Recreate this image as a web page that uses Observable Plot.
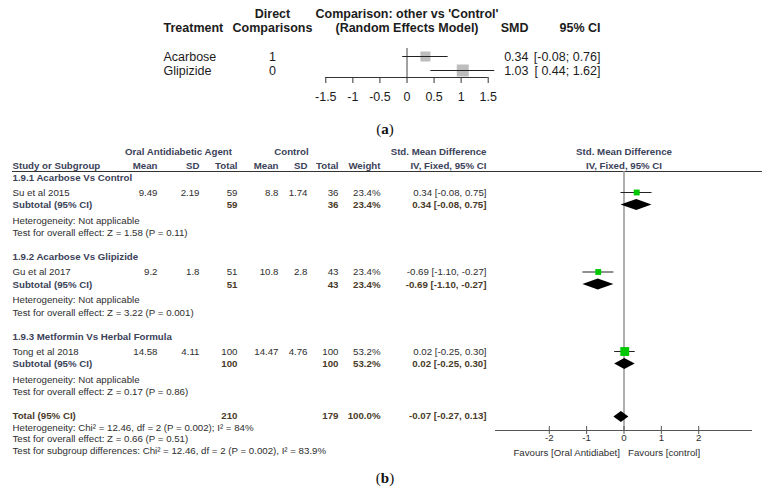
<!DOCTYPE html>
<html>
<head>
<meta charset="utf-8">
<script src="https://cdn.jsdelivr.net/npm/d3@7"></script>
<script src="https://cdn.jsdelivr.net/npm/@observablehq/plot@0.6"></script>
<style>
html, body { margin: 0; padding: 0; background: #fff; }
#root { position: relative; width: 770px; height: 493px; overflow: hidden; background: #fff; }
#root svg { position: absolute; left: 0; }
.cap { position: absolute; left: 0; width: 770px; text-align: center; font-family: "Liberation Serif", "Times New Roman", serif; font-size: 15px; line-height: 15px; color: #111; }
</style>
</head>
<body>
<div id="root"></div>
<script>
// ================= DATA: panel (a) — network meta-analysis =================
const aTreatments = ["Acarbose", "Glipizide"];
const aDirect = [1, 0];
const aSMD = [0.34, 1.03];
const aLower = [-0.08, 0.44];
const aUpper = [0.76, 1.62];
const aTicks = [-1.5, -1, -0.5, 0, 0.5, 1, 1.5];
const aHeaderTop = ["Direct", "Comparison: other vs 'Control'"];
const aHeaderBottom = ["Treatment", "Comparisons", "(Random Effects Model)", "SMD", "95% CI"];

// ================= DATA: panel (b) — RevMan forest plot =================
const bSubgroups = ["1.9.1 Acarbose Vs Control", "1.9.2 Acarbose Vs Glipizide", "1.9.3 Metformin Vs Herbal Formula"];
const bStudies = ["Su et al 2015", "Gu et al 2017", "Tong et al 2018"];
const bExpMean = [9.49, 9.2, 14.58];
const bExpSD = [2.19, 1.8, 4.11];
const bExpTotal = [59, 51, 100];
const bCtlMean = [8.8, 10.8, 14.47];
const bCtlSD = [1.74, 2.8, 4.76];
const bCtlTotal = [36, 43, 100];
const bWeight = [23.4, 23.4, 53.2];
const bSMD = [0.34, -0.69, 0.02];
const bLower = [-0.08, -1.10, -0.25];
const bUpper = [0.75, -0.27, 0.30];
const bSubSMD = [0.34, -0.69, 0.02];
const bSubLower = [-0.08, -1.10, -0.25];
const bSubUpper = [0.75, -0.27, 0.30];
const bHeterogeneity = ["Heterogeneity: Not applicable", "Heterogeneity: Not applicable", "Heterogeneity: Not applicable"];
const bOverall = ["Test for overall effect: Z = 1.58 (P = 0.11)", "Test for overall effect: Z = 3.22 (P = 0.001)", "Test for overall effect: Z = 0.17 (P = 0.86)"];
const bTotalLabel = "Total (95% CI)";
const bSubtotalLabel = "Subtotal (95% CI)";
const bTotalExp = 210;
const bTotalCtl = 179;
const bTotalWeight = 100.0;
const bTotalSMD = -0.07;
const bTotalLower = -0.27;
const bTotalUpper = 0.13;
const bFooter = [
  "Heterogeneity: Chi\u00b2 = 12.46, df = 2 (P = 0.002); I\u00b2 = 84%",
  "Test for overall effect: Z = 0.66 (P = 0.51)",
  "Test for subgroup differences: Chi\u00b2 = 12.46, df = 2 (P = 0.002), I\u00b2 = 83.9%"
];
const bTicks = [-2, -1, 0, 1, 2];
const bAxisExtent = [-3.44, 3.44];
const bFavours = ["Favours [Oral Antidiabet]", "Favours [control]"];
const bGroupHeaders = ["Oral Antidiabetic Agent", "Control", "Std. Mean Difference", "Std. Mean Difference"];
const bColumnHeaders = ["Study or Subgroup", "Mean", "SD", "Total", "Mean", "SD", "Total", "Weight", "IV, Fixed, 95% CI", "IV, Fixed, 95% CI"];

// ================= LAYOUT & STYLE =================
const FONT = "'Liberation Sans', Arial, sans-serif";
const root = document.getElementById("root");
const locale = d3.formatLocale({decimal: ".", thousands: ",", grouping: [3], currency: ["", ""], minus: "-"});
const f2 = locale.format(".2f");
const f1 = locale.format(".1f");

// ---------- panel (a) ----------
const A_TOP = 0, A_H = 112, A_AXIS_Y = 77, A_FS = 12.5;
const aRowY = aTreatments.map((d, i) => 56 + 14 * i);
const aHeadY = [13, 27];
const aSide = [10, 12];              // square side (px), style
const A_INK = "#1c1c1c";
const ciA = (l, u) => `[${f2(l).padStart(5, " ")}; ${f2(u)}]`;

function aCol(values, ys, px, anchor, style = {}) {
  return Plot.text(values, {
    text: d => String(d), y: (d, i) => ys[i],
    frameAnchor: "left", dx: px, textAnchor: anchor,
    fontSize: A_FS, fill: A_INK, ...style
  });
}
const aBold = {fontWeight: "bold"};

const plotA = Plot.plot({
  width: 770, height: A_H,
  marginTop: 0, marginLeft: 0, marginRight: 0, marginBottom: A_H - A_AXIS_Y,
  x: {domain: [-1.5, 1.5], range: [325.3, 487.7]},
  y: {type: "identity", axis: null},
  r: {type: "identity"},
  style: {fontFamily: FONT, fontSize: A_FS + "px", color: A_INK, background: "transparent", overflow: "visible"},
  marks: [
    // headers
    aCol([aHeaderTop[0]], [aHeadY[0]], 272, "middle", aBold),
    Plot.text([aHeaderTop[1]], {x: 0, y: aHeadY[0], fontSize: A_FS, fontWeight: "bold", fill: A_INK}),
    aCol([aHeaderBottom[0]], [aHeadY[1]], 163, "start", aBold),
    aCol([aHeaderBottom[1]], [aHeadY[1]], 272, "middle", aBold),
    Plot.text([aHeaderBottom[2]], {x: 0, y: aHeadY[1], fontSize: A_FS, fontWeight: "bold", fill: A_INK}),
    aCol([aHeaderBottom[3]], [aHeadY[1]], 528, "end", aBold),
    aCol([aHeaderBottom[4]], [aHeadY[1]], 600, "end", aBold),
    // rows
    aCol(aTreatments, aRowY, 163, "start"),
    aCol(aDirect, aRowY, 272, "middle"),
    aCol(aSMD.map(f2), aRowY, 528, "end"),
    aCol(aTreatments.map((d, i) => ciA(aLower[i], aUpper[i])), aRowY, 600, "end"),
    // reference line and axis
    Plot.ruleX([0], {y1: 48, y2: A_AXIS_Y, stroke: "#444", strokeWidth: 1}),
    Plot.ruleY([A_AXIS_Y], {x1: aTicks[0], x2: aTicks[aTicks.length - 1], stroke: "#333"}),
    Plot.axisX({ticks: aTicks, tickSize: 6, tickPadding: 9, tickFormat: d => String(d), fontSize: A_FS, stroke: "#333", fill: A_INK, label: null}),
    // squares + CIs
    Plot.dot(aTreatments, {
      x: (d, i) => aSMD[i], y: (d, i) => aRowY[i],
      symbol: "square", r: (d, i) => aSide[i] / Math.sqrt(Math.PI),
      fill: "#bdbdbd", stroke: "none"
    }),
    Plot.ruleY(aTreatments, {y: (d, i) => aRowY[i], x1: (d, i) => aLower[i], x2: (d, i) => aUpper[i], stroke: "#222", strokeWidth: 1})
  ]
});
plotA.style.top = A_TOP + "px";
root.appendChild(plotA);

// caption (a)
const capA = document.createElement("div");
capA.className = "cap"; capA.style.top = "122px";
capA.innerHTML = "(<b>a</b>)";
root.appendChild(capA);

// ---------- panel (b) ----------
const B_TOP = 140, B_H = 330, B_ML = 12, B_MR = 8, B_FS = 9.7;
const by = v => v - B_TOP;
const HEAD = "#3b4259", BODY = "#2e2e2e", BROWN = "#4a3a28";
const H1 = 151, H2 = 165, RULE_Y = 171, AXIS_Y = 430;
const studyY = [192, 271.5, 351];
const secY = studyY.map(y => y - 15);
const subY = studyY.map(y => y + 12.5);
const hetY = studyY.map(y => y + 28);
const testY = studyY.map(y => y + 40.5);
const TOTAL_Y = 415.5;
const footY = [427, 438.5, 450];
const DH = 5.5; // diamond half height
const cx = {label: B_ML, expMean: 157, expSD: 199, expN: 237, ctlMean: 278, ctlSD: 307, ctlN: 338, weight: 380, ci: 486};
const headX = [cx.label, cx.expMean, cx.expSD, cx.expN, cx.ctlMean, cx.ctlSD, cx.ctlN, cx.weight, cx.ci];
const headAnchor = ["start", "end", "end", "end", "end", "end", "end", "end", "end"];

const ciB = (m, l, u) => `${f2(m)} [${f2(l)}, ${f2(u)}]`;
const pct = w => f1(w) + "%";

function col(values, ys, px, anchor, style = {}) {
  return Plot.text(values, {
    text: d => String(d), y: (d, i) => by(ys[i]),
    frameAnchor: "left", dx: px - B_ML, textAnchor: anchor,
    fontSize: B_FS, fill: BODY, ...style
  });
}
const bold = {fontWeight: "bold", fill: HEAD};
const boldBrown = {fontWeight: "bold", fill: BROWN};

const diamonds = [];
bSubSMD.forEach((m, i) => {
  const y = by(subY[i]);
  diamonds.push({id: "s" + i, x: bSubLower[i], y1: y, y2: y},
                {id: "s" + i, x: m, y1: y - DH, y2: y + DH},
                {id: "s" + i, x: bSubUpper[i], y1: y, y2: y});
});
{
  const y = by(TOTAL_Y + 1);
  diamonds.push({id: "t", x: bTotalLower, y1: y, y2: y},
                {id: "t", x: bTotalSMD, y1: y - DH, y2: y + DH},
                {id: "t", x: bTotalUpper, y1: y, y2: y});
}

const plotB = Plot.plot({
  width: 770, height: B_H,
  marginTop: 0, marginLeft: B_ML, marginRight: B_MR, marginBottom: B_H - by(AXIS_Y),
  x: {domain: bAxisExtent, range: [495, 752]},
  y: {type: "identity", axis: null},
  r: {type: "sqrt", domain: [0, d3.max(bWeight)], range: [0, 5]},
  style: {fontFamily: FONT, fontSize: B_FS + "px", color: BODY, background: "transparent", overflow: "visible"},
  marks: [
    // header texts
    col([bGroupHeaders[0]], [H1], 178, "middle", bold),
    col([bGroupHeaders[1]], [H1], 291, "middle", bold),
    col([bGroupHeaders[2]], [H1], cx.ci, "end", bold),
    Plot.text([bGroupHeaders[3]], {x: 0, y: by(H1), fontSize: B_FS, ...bold}),
    ...headX.map((px, k) => col([bColumnHeaders[k]], [H2], px, headAnchor[k], bold)),
    Plot.text([bColumnHeaders[9]], {x: 0, y: by(H2), fontSize: B_FS, ...bold}),
    // header rule
    Plot.ruleY([by(RULE_Y)], {stroke: "#333", strokeWidth: 1}),
    // subgroup blocks
    col(bSubgroups, secY, cx.label, "start", bold),
    col(bStudies, studyY, cx.label, "start"),
    col(bExpMean, studyY, cx.expMean, "end"),
    col(bExpSD, studyY, cx.expSD, "end"),
    col(bExpTotal, studyY, cx.expN, "end"),
    col(bCtlMean, studyY, cx.ctlMean, "end"),
    col(bCtlSD, studyY, cx.ctlSD, "end"),
    col(bCtlTotal, studyY, cx.ctlN, "end"),
    col(bWeight.map(pct), studyY, cx.weight, "end"),
    col(bSMD.map((m, i) => ciB(m, bLower[i], bUpper[i])), studyY, cx.ci, "end"),
    col(bSubgroups.map(() => bSubtotalLabel), subY, cx.label, "start", bold),
    col(bExpTotal, subY, cx.expN, "end", boldBrown),
    col(bCtlTotal, subY, cx.ctlN, "end", boldBrown),
    col(bWeight.map(pct), subY, cx.weight, "end", boldBrown),
    col(bSubSMD.map((m, i) => ciB(m, bSubLower[i], bSubUpper[i])), subY, cx.ci, "end", boldBrown),
    col(bHeterogeneity, hetY, cx.label, "start"),
    col(bOverall, testY, cx.label, "start"),
    // total
    col([bTotalLabel], [TOTAL_Y], cx.label, "start", boldBrown),
    col([bTotalExp], [TOTAL_Y], cx.expN, "end", boldBrown),
    col([bTotalCtl], [TOTAL_Y], cx.ctlN, "end", boldBrown),
    col([pct(bTotalWeight)], [TOTAL_Y], cx.weight, "end", boldBrown),
    col([ciB(bTotalSMD, bTotalLower, bTotalUpper)], [TOTAL_Y], cx.ci, "end", boldBrown),
    col(bFooter, footY, cx.label, "start"),
    // forest: null line, axis
    Plot.ruleX([0], {y1: by(RULE_Y), y2: by(AXIS_Y), stroke: "#9c9c9c", strokeWidth: 1.6}),
    Plot.ruleY([by(AXIS_Y)], {x1: bAxisExtent[0], x2: bAxisExtent[1], stroke: "#555"}),
    Plot.ruleX(bTicks, {y1: by(AXIS_Y) - 4, y2: by(AXIS_Y) + 4, stroke: "#555"}),
    Plot.axisX({ticks: bTicks, tickSize: 0, tickPadding: 4, tickFormat: d => String(d), fontSize: B_FS, fill: BODY, label: null}),
    Plot.text([bFavours[0]], {x: 0, y: by(452), dx: -4, textAnchor: "end", fontSize: B_FS, fill: BODY}),
    Plot.text([bFavours[1]], {x: 0, y: by(452), dx: 4, textAnchor: "start", fontSize: B_FS, fill: BODY}),
    // study CIs and squares
    Plot.ruleY(bStudies, {y: (d, i) => by(studyY[i]), x1: (d, i) => bLower[i], x2: (d, i) => bUpper[i], stroke: "#222", strokeWidth: 1}),
    Plot.dot(bStudies, {
      x: (d, i) => bSMD[i], y: (d, i) => by(studyY[i]), r: (d, i) => bWeight[i],
      symbol: "square", fill: "#00c800", stroke: "none"
    }),
    // diamonds
    Plot.areaY(diamonds, {x: "x", y1: "y1", y2: "y2", z: "id", fill: "#000", curve: "linear"})
  ]
});
plotB.style.top = B_TOP + "px";
root.appendChild(plotB);

const capB = document.createElement("div");
capB.className = "cap"; capB.style.top = "471px";
capB.innerHTML = "(<b>b</b>)";
root.appendChild(capB);
</script>
</body>
</html>
